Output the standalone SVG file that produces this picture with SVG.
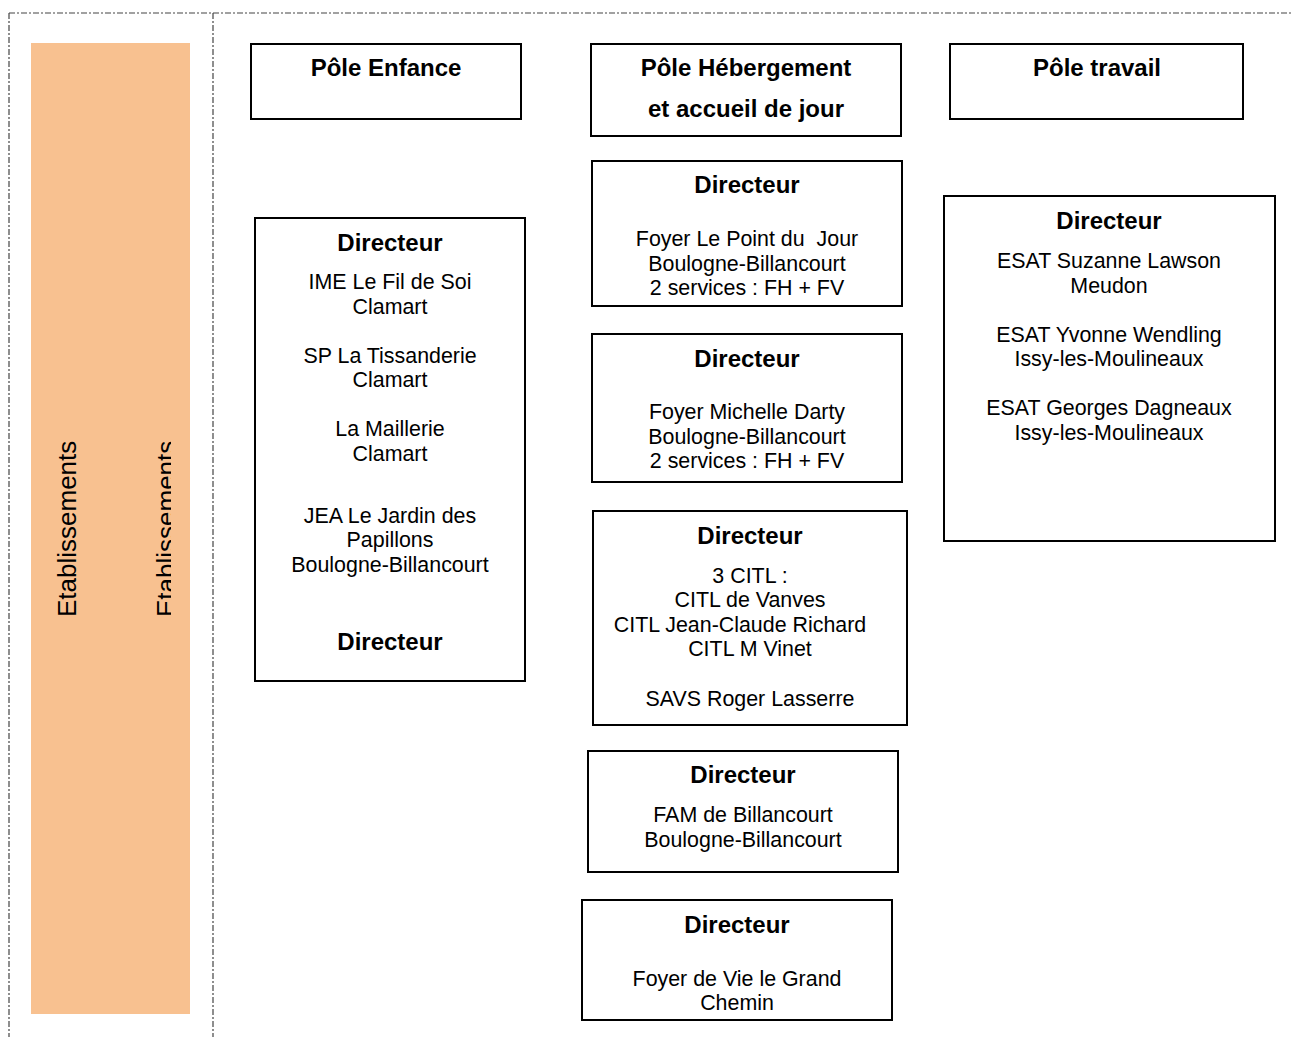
<svg xmlns="http://www.w3.org/2000/svg" width="1291" height="1037" viewBox="0 0 1291 1037">
<style>
.frame{fill:none;stroke:#444;stroke-width:1.2;stroke-dasharray:6 2 2 2}
.box{fill:#fff;stroke:#000;stroke-width:2}
text{font-family:"Liberation Sans",Arial,sans-serif;fill:#000;text-anchor:middle}
.b{font-weight:bold;font-size:24px}
.r{font-size:21.4px}
.v{font-size:26px;text-anchor:start}
</style>
<defs>
<clipPath id="clip2"><rect x="100" y="0" width="71" height="1037"/></clipPath>
</defs>
<g id="frame">
<line class="frame" x1="9" y1="13" x2="1291" y2="13"/>
<line class="frame" x1="9" y1="13" x2="9" y2="1037"/>
<line class="frame" x1="213" y1="13" x2="213" y2="1037"/>
</g>
<g id="etablissements">
<rect x="31" y="43" width="159" height="971" fill="#F8C190"/>
<text class="v" transform="translate(76,617) rotate(-90)">Etablissements</text>
<g clip-path="url(#clip2)"><text class="v" transform="translate(175,617) rotate(-90)">Etablissements</text></g>
</g>
<g id="pole-enfance">
<rect class="box" x="251" y="44" width="270" height="75"/>
<text class="b" x="386" y="76">Pôle Enfance</text>
</g>
<g id="pole-hebergement">
<rect class="box" x="591" y="44" width="310" height="92"/>
<text class="b" x="746" y="76">Pôle Hébergement</text>
<text class="b" x="746" y="117">et accueil de jour</text>
</g>
<g id="pole-travail">
<rect class="box" x="950" y="44" width="293" height="75"/>
<text class="b" x="1097" y="76">Pôle travail</text>
</g>
<g id="dir-enfance">
<rect class="box" x="255" y="218" width="270" height="463"/>
<text class="b" x="390" y="251">Directeur</text>
<text class="r" x="390" y="289">IME Le Fil de Soi</text>
<text class="r" x="390" y="314">Clamart</text>
<text class="r" x="390" y="363">SP La Tissanderie</text>
<text class="r" x="390" y="387">Clamart</text>
<text class="r" x="390" y="436">La Maillerie</text>
<text class="r" x="390" y="461">Clamart</text>
<text class="r" x="390" y="523">JEA Le Jardin des</text>
<text class="r" x="390" y="547">Papillons</text>
<text class="r" x="390" y="572">Boulogne-Billancourt</text>
<text class="b" x="390" y="650">Directeur</text>
</g>
<g id="dir-point-du-jour">
<rect class="box" x="592" y="161" width="310" height="145"/>
<text class="b" x="747" y="193">Directeur</text>
<text class="r" x="747" y="246" xml:space="preserve">Foyer Le Point du  Jour</text>
<text class="r" x="747" y="271">Boulogne-Billancourt</text>
<text class="r" x="747" y="295">2 services : FH + FV</text>
</g>
<g id="dir-darty">
<rect class="box" x="592" y="334" width="310" height="148"/>
<text class="b" x="747" y="367">Directeur</text>
<text class="r" x="747" y="419">Foyer Michelle Darty</text>
<text class="r" x="747" y="444">Boulogne-Billancourt</text>
<text class="r" x="747" y="468">2 services : FH + FV</text>
</g>
<g id="dir-citl">
<rect class="box" x="593" y="511" width="314" height="214"/>
<text class="b" x="750" y="544">Directeur</text>
<text class="r" x="750" y="583">3 CITL :</text>
<text class="r" x="750" y="607">CITL de Vanves</text>
<text class="r" x="740" y="632">CITL Jean-Claude Richard</text>
<text class="r" x="750" y="656">CITL M Vinet</text>
<text class="r" x="750" y="706">SAVS Roger Lasserre</text>
</g>
<g id="dir-fam">
<rect class="box" x="588" y="751" width="310" height="121"/>
<text class="b" x="743" y="783">Directeur</text>
<text class="r" x="743" y="822">FAM de Billancourt</text>
<text class="r" x="743" y="847">Boulogne-Billancourt</text>
</g>
<g id="dir-foyer-vie">
<rect class="box" x="582" y="900" width="310" height="120"/>
<text class="b" x="737" y="933">Directeur</text>
<text class="r" x="737" y="986">Foyer de Vie le Grand</text>
<text class="r" x="737" y="1010">Chemin</text>
</g>
<g id="dir-esat">
<rect class="box" x="944" y="196" width="331" height="345"/>
<text class="b" x="1109" y="229">Directeur</text>
<text class="r" x="1109" y="268">ESAT Suzanne Lawson</text>
<text class="r" x="1109" y="293">Meudon</text>
<text class="r" x="1109" y="342">ESAT Yvonne Wendling</text>
<text class="r" x="1109" y="366">Issy-les-Moulineaux</text>
<text class="r" x="1109" y="415">ESAT Georges Dagneaux</text>
<text class="r" x="1109" y="440">Issy-les-Moulineaux</text>
</g>
<g id="connectors"></g>
</svg>
